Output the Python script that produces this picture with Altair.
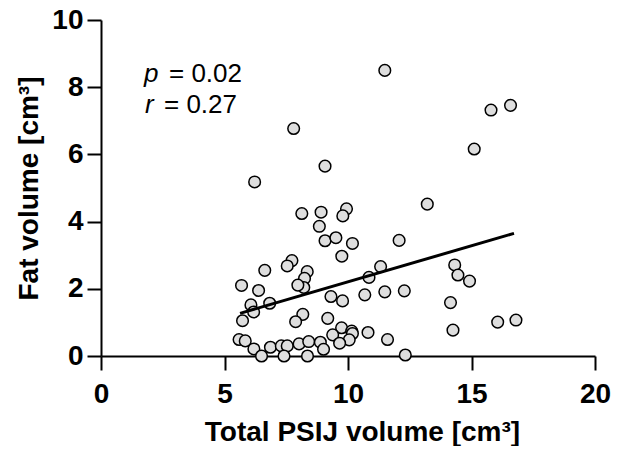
import altair as alt
import pandas as pd

psij = [11.49, 15.79, 16.58, 7.80, 15.11, 9.07, 6.22, 13.21, 8.13, 8.91,
        9.94, 9.79, 8.84, 9.07, 9.51, 10.18, 12.07, 9.75, 7.73, 7.54,
        6.63, 8.35, 8.24, 8.21, 7.97, 5.69, 6.38, 11.32, 10.85, 14.32,
        14.45, 14.92, 11.49, 12.28, 10.68, 9.31, 9.78, 14.15, 6.07, 6.83,
        6.18, 5.73, 8.17, 7.88, 9.18, 14.25, 16.06, 16.80, 9.74, 10.15,
        10.18, 10.81, 9.38, 10.05, 9.66, 11.60, 5.59, 5.84, 6.19, 6.86,
        6.50, 7.30, 7.54, 7.41, 8.02, 8.41, 8.36, 8.88, 9.01, 12.32]
fat = [8.50, 7.32, 7.46, 6.77, 6.16, 5.65, 5.18, 4.52, 4.24, 4.28,
       4.38, 4.17, 3.86, 3.43, 3.52, 3.35, 3.44, 2.97, 2.84, 2.68,
       2.55, 2.51, 2.31, 2.04, 2.11, 2.10, 1.95, 2.66, 2.34, 2.71,
       2.41, 2.23, 1.91, 1.94, 1.82, 1.77, 1.64, 1.59, 1.52, 1.57,
       1.31, 1.05, 1.24, 1.02, 1.12, 0.77, 1.01, 1.07, 0.84, 0.74,
       0.67, 0.70, 0.63, 0.48, 0.38, 0.49, 0.49, 0.45, 0.21, 0.26,
       0.00, 0.30, 0.30, 0.00, 0.36, 0.43, 0.00, 0.41, 0.20, 0.03]

fit_x = [5.63, 16.72]
fit_y = [1.27, 3.65]

x_ticks = [0, 5, 10, 15, 20]
y_ticks = [0, 2, 4, 6, 8, 10]

FONT = "Liberation Sans"

pts = pd.DataFrame({"x": psij, "y": fat})
fit = pd.DataFrame({"x": fit_x, "y": fit_y})

xs = alt.Scale(domain=[0, 20], nice=False)
ys = alt.Scale(domain=[0, 10], nice=False)

xaxis = alt.Axis(values=x_ticks, title="Total PSIJ volume [cm³]", grid=False,
                 domainColor="black", domainWidth=2, tickColor="black", tickWidth=2,
                 tickSize=14, labelFont=FONT, labelFontSize=28, labelFontWeight="bold",
                 labelColor="black", labelPadding=10, labelFlush=False,
                 titleFont=FONT, titleFontSize=28,
                 titleFontWeight="bold", titleColor="black", titleX=261, titleY=84,
                 titleBaseline="alphabetic", titleAlign="center")
yaxis = alt.Axis(values=y_ticks, title="Fat volume [cm³]", grid=False,
                 domainColor="black", domainWidth=2, tickColor="black", tickWidth=2,
                 tickSize=14, labelFont=FONT, labelFontSize=28, labelFontWeight="bold",
                 labelColor="black", labelPadding=4, labelFlush=False,
                 titleFont=FONT, titleFontSize=28,
                 titleFontWeight="bold", titleColor="black", titleX=-64, titleY=168,
                 titleBaseline="alphabetic", titleAlign="center", titleAngle=270)

points = alt.Chart(pts).mark_point(
    shape="circle", filled=True, fill="#dedede", stroke="black",
    strokeWidth=1.5, size=135, opacity=1
).encode(x=alt.X("x:Q", scale=xs, axis=xaxis), y=alt.Y("y:Q", scale=ys, axis=yaxis))

line = alt.Chart(fit).mark_line(color="black", strokeWidth=3).encode(
    x=alt.X("x:Q", scale=xs), y=alt.Y("y:Q", scale=ys))

ann_df = pd.DataFrame({"k": [0]})
def txt(t, x, y, style):
    return alt.Chart(ann_df).mark_text(
        text=t, font=FONT, fontSize=26, fontStyle=style, align="left",
        baseline="alphabetic", color="black"
    ).encode(x=alt.value(x), y=alt.value(y))

anns = [txt("p", 43, 62, "italic"), txt("= 0.02", 68, 62, "normal"),
        txt("r", 44, 93, "italic"), txt("= 0.27", 63, 93, "normal")]

chart = alt.layer(points, line, *anns).properties(
    width=494, height=336,
    autosize=alt.AutoSizeParams(type="none"),
    padding={"left": 93, "top": 12, "right": 17, "bottom": 90},
).configure_view(stroke=None)

chart.save("out.html", embed_options={"renderer": "svg", "actions": False})
